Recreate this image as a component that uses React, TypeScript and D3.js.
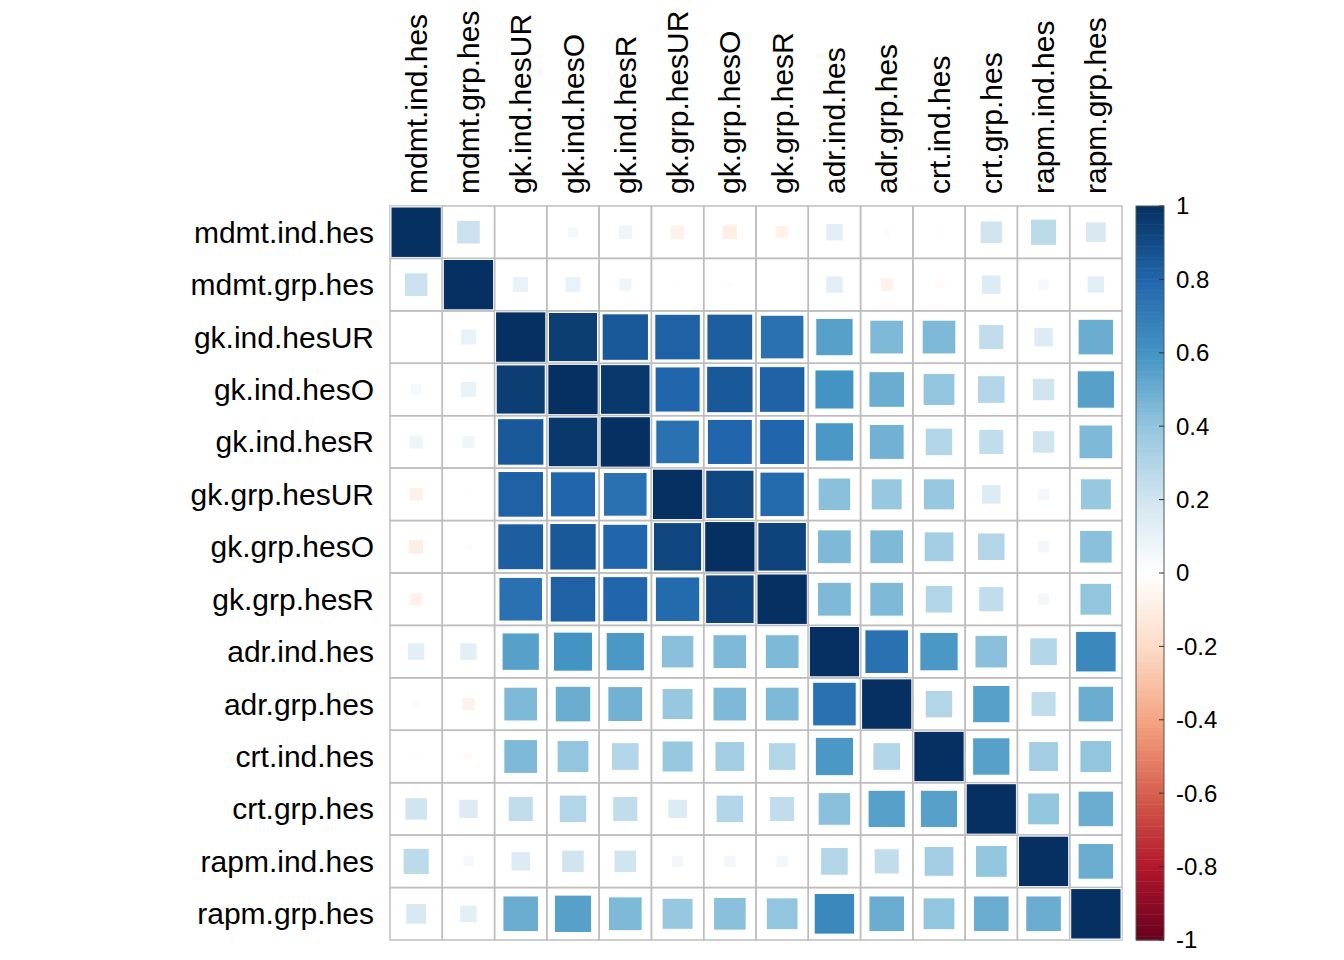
import React from "react";
import * as d3 from "d3";

const labels = ["mdmt.ind.hes","mdmt.grp.hes","gk.ind.hesUR","gk.ind.hesO","gk.ind.hesR","gk.grp.hesUR","gk.grp.hesO","gk.grp.hesR","adr.ind.hes","adr.grp.hes","crt.ind.hes","crt.grp.hes","rapm.ind.hes","rapm.grp.hes"];
const row1 = [1,.22,0,.05,.08,-.08,-.09,-.07,.12,-.02,-.01,.2,.27,.17];
const row2 = [.22,1,.1,.1,.07,-.01,-.02,0,.12,-.07,-.03,.15,.05,.12];
const row3 = [0,.1,1,.95,.85,.82,.83,.75,.55,.45,.45,.25,.15,.5];
const row4 = [.05,.1,.95,1,.97,.8,.85,.82,.6,.5,.4,.3,.2,.55];
const row5 = [.08,.07,.85,.97,1,.75,.8,.8,.58,.48,.3,.25,.2,.45];
const row6 = [-.08,-.01,.82,.8,.75,1,.92,.78,.42,.38,.38,.15,.06,.38];
const row7 = [-.09,-.02,.83,.85,.8,.92,1,.93,.45,.45,.35,.3,.06,.42];
const row8 = [-.07,0,.75,.82,.8,.78,.93,1,.45,.45,.3,.25,.06,.4];
const row9 = [.12,.12,.55,.6,.58,.42,.45,.45,1,.75,.58,.42,.3,.65];
const row10 = [-.02,-.07,.45,.5,.48,.38,.45,.45,.75,1,.3,.55,.25,.5];
const row11 = [-.01,-.03,.45,.4,.3,.38,.35,.3,.58,.3,1,.55,.35,.4];
const row12 = [.2,.15,.25,.3,.25,.15,.3,.25,.42,.55,.55,1,.4,.5];
const row13 = [.27,.05,.15,.2,.2,.06,.06,.06,.3,.25,.35,.4,1,.5];
const row14 = [.17,.12,.5,.55,.45,.38,.42,.4,.65,.5,.4,.5,.5,1];
const matrix = [row1,row2,row3,row4,row5,row6,row7,row8,row9,row10,row11,row12,row13,row14];
const barTicks = [1,0.8,0.6,0.4,0.2,0,-0.2,-0.4,-0.6,-0.8,-1];
const palette = ["#67001F","#B2182B","#D6604D","#F4A582","#FDDBC7","#FFFFFF","#D1E5F0","#92C5DE","#4393C3","#2166AC","#053061"];

export default function App() {
  const x0 = 390, y0 = 206, W = 732, H = 734;
  const n = labels.length;
  const xs = d3.scaleBand<number>().domain(d3.range(n)).range([x0, x0 + W]);
  const ys = d3.scaleBand<number>().domain(d3.range(n)).range([y0, y0 + H]);
  const color = d3.scaleLinear<string>().domain(d3.range(11).map(i => -1 + i * 0.2)).range(palette);
  const cw = xs.bandwidth(), ch = ys.bandwidth();
  const bx = 1136, bw = 28;
  const by = d3.scaleLinear().domain([1, -1]).range([y0, y0 + H]);
  const strips = d3.range(200).map(i => -1 + (i + 0.5) / 100);
  const font = "Liberation Sans, Arial, sans-serif";
  return (
    <svg width={1344} height={960} style={{ position: "absolute", left: 0, top: 0 }}>
      <rect width={1344} height={960} fill="#fff" />
      {matrix.map((row, i) => row.map((v, j) => {
        const s = Math.sqrt(Math.abs(v));
        const w = (cw - 2) * s, h = (ch - 2) * s;
        return (
          <g key={i + "-" + j}>
            <rect x={xs(j)!} y={ys(i)!} width={cw} height={ch} fill="none" stroke="#BEBEBE" strokeWidth={1.5} />
            <rect x={xs(j)! + cw / 2 - w / 2} y={ys(i)! + ch / 2 - h / 2} width={w} height={h} fill={color(v)} stroke="#fff" strokeWidth={1} />
          </g>
        );
      }))}
      {labels.map((l, i) => (
        <text key={"r" + l} x={374} y={ys(i)! + ch / 2} dy="0.35em" textAnchor="end" fontFamily={font} fontSize={30}>{l}</text>
      ))}
      {labels.map((l, j) => (
        <text key={"c" + l} transform={`translate(${xs(j)! + cw / 2},194) rotate(-90)`} dy="0.35em" fontFamily={font} fontSize={30}>{l}</text>
      ))}
      {strips.map((v, i) => (
        <rect key={"s" + i} x={bx} y={by(v + 0.005)} width={bw} height={H / 200 + 0.5} fill={color(v)} />
      ))}
      <rect x={bx} y={y0} width={bw} height={H} fill="none" stroke="#555" strokeWidth={1} />
      {barTicks.map(t => (
        <g key={"t" + t}>
          <line x1={bx + bw - 5} x2={bx + bw} y1={by(t)} y2={by(t)} stroke="#333" />
          <text x={bx + bw + 12} y={by(t)} dy="0.35em" fontFamily={font} fontSize={24}>{t}</text>
        </g>
      ))}
    </svg>
  );
}
